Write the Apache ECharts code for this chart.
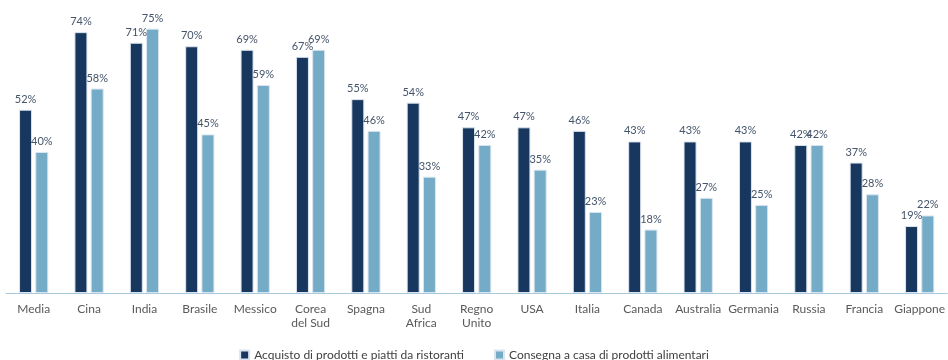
<!DOCTYPE html>
<html>
<head>
<meta charset="utf-8">
<script src="https://cdn.jsdelivr.net/npm/echarts@6/dist/echarts.min.js"></script>
<style>
  html, body { margin: 0; padding: 0; background: #fff; }
  #chart { width: 948px; height: 360px; }
</style>
</head>
<body>
<div id="chart"></div>
<script>
// categorie e valori (%)
const categories = ['Media', 'Cina', 'India', 'Brasile', 'Messico', 'Corea\ndel Sud', 'Spagna', 'Sud\nAfrica',
  'Regno\nUnito', 'USA', 'Italia', 'Canada', 'Australia', 'Germania', 'Russia', 'Francia', 'Giappone'];
const ristoranti = [52, 74, 71, 70, 69, 67, 55, 54, 47, 47, 46, 43, 43, 43, 42, 37, 19];
const alimentari = [40, 58, 75, 45, 59, 69, 46, 33, 42, 35, 23, 18, 27, 25, 42, 28, 22];

const chart = echarts.init(document.getElementById('chart'));
const font = 'Lato, "Open Sans", sans-serif';

const label = {
  show: true,
  position: 'top',
  distance: 5,
  formatter: '{c}%',
  color: '#44546a',
  fontSize: 11,
  fontFamily: font
};

chart.setOption({
  animation: false,
  color: ['#17375e', '#74abc7'],
  grid: { left: 6, right: -3, top: 11, bottom: 67 },
  legend: {
    bottom: -6,
    left: 'center',
    itemWidth: 9,
    itemHeight: 9,
    itemGap: 30,
    icon: 'rect',
    textStyle: { color: '#404040', fontSize: 12, fontFamily: font },
    data: ['Acquisto di prodotti e piatti da ristoranti', 'Consegna a casa di prodotti alimentari']
  },
  xAxis: {
    type: 'category',
    data: categories,
    axisLine: { lineStyle: { color: '#a9c8dc', width: 1 } },
    axisTick: { show: false },
    axisLabel: { color: '#595959', fontSize: 12, fontFamily: font, interval: 0, margin: 9, lineHeight: 14 }
  },
  yAxis: {
    type: 'value',
    min: 0,
    max: 80,
    show: false
  },
  series: [
    {
      name: 'Acquisto di prodotti e piatti da ristoranti',
      type: 'bar',
      data: ristoranti,
      barWidth: 13,
      barGap: '25%',
      itemStyle: { borderColor: '#dbe5ef', borderWidth: 1 },
      label: label
    },
    {
      name: 'Consegna a casa di prodotti alimentari',
      type: 'bar',
      data: alimentari,
      barWidth: 13,
      itemStyle: { borderColor: '#dbe5ef', borderWidth: 1 },
      label: label
    }
  ]
});
</script>
</body>
</html>
